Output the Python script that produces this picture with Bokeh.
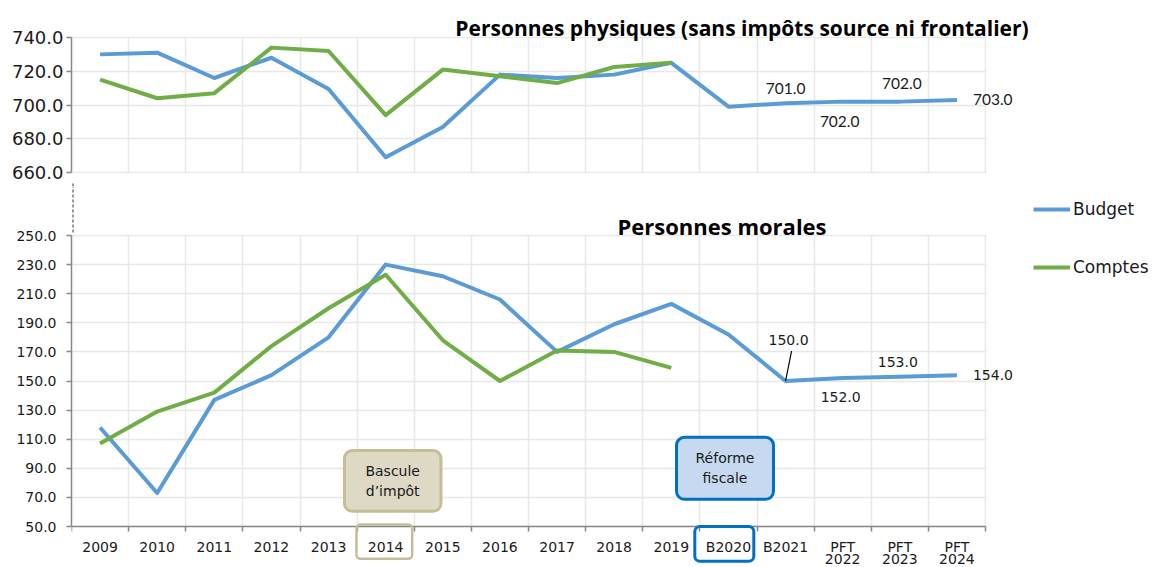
from bokeh.plotting import figure
from bokeh.layouts import column
from bokeh.models import (Range1d, FixedTicker, PrintfTickFormatter, Legend, LegendItem,
                          Label, LabelSet, ColumnDataSource, BoxAnnotation, LinearAxis)
from bokeh.embed import file_html
from bokeh.resources import INLINE
from bokeh.core.properties import value

# ---------------- data ----------------
categories = ["2009", "2010", "2011", "2012", "2013", "2014", "2015", "2016", "2017", "2018",
              "2019", "B2020", "B2021", "PFT 2022", "PFT 2023", "PFT 2024"]

# Personnes physiques (sans impôts source ni frontalier)
pp_budget = [730, 731, 716, 728, 709.5, 669, 687, 718, 716, 718, 725, 699, 701, 702, 702, 703]
pp_comptes = [715, 704, 707, 734, 732, 694, 721, 717, 713, 722.5, 725]
# Personnes morales
pm_budget = [118, 73, 137, 154, 180, 230, 222, 206, 170, 189, 203, 182, 150, 152, 153, 154]
pm_comptes = [107, 129, 142, 174, 200, 223, 178, 150, 171, 170, 159]

pp_ticks = [660, 680, 700, 720, 740]
pm_ticks = [50, 70, 90, 110, 130, 150, 170, 190, 210, 230, 250]
labelled = ["B2021", "PFT 2022", "PFT 2023", "PFT 2024"]

title_pp = "Personnes physiques (sans impôts source ni frontalier)"
title_pm = "Personnes morales"
series_names = ["Budget", "Comptes"]
note_1 = "Bascule\nd’impôt"
note_2 = "Réforme\nfiscale"

# ---------------- style / geometry ----------------
BLUE = "#5b9bd5"
GREEN = "#70ad47"
GRID = "#e8e8e8"
AXIS = "#868686"
TXT = "#1a1a1a"
FONT = "DejaVu Sans"
TFONT = "Open Sans"
W, H = 1153, 567
LEFT = 71                       # frame left edge (px); frame runs to the right edge
n = len(categories)
CAT_W = (985 - LEFT) / n        # px per category
xs = [i + 0.5 for i in range(n)]
pos = {c: i + 0.5 for i, c in enumerate(categories)}
bounds_x = list(range(n + 1))
xr = Range1d(0, (W - LEFT) / CAT_W)

# top panel: 740 at 37px, 660 at 172px, figure 0..186
H1 = 186
k1 = (172 - 37) / (pp_ticks[-1] - pp_ticks[0])
yr1 = Range1d(pp_ticks[0] - (H1 - 172) / k1, pp_ticks[-1] + 37 / k1)
# bottom panel: 250 at 235px, 50 at 526px, figure 186..567
H2 = H - H1
k2 = (526 - 235) / (pm_ticks[-1] - pm_ticks[0])
yr2 = Range1d(pm_ticks[0] - (H - 526) / k2, pm_ticks[-1] + (235 - H1) / k2)
XBRK = 1.5 / CAT_W              # x of the dashed axis-break mark


def style(p, yticks, yfont_size, standoff):
    p.outline_line_color = None
    p.ygrid.ticker = FixedTicker(ticks=yticks)
    p.ygrid.grid_line_color = GRID
    p.ygrid.grid_line_width = 1.5
    p.xgrid.ticker = FixedTicker(ticks=bounds_x)
    p.xgrid.grid_line_color = GRID
    p.xgrid.grid_line_width = 1.5
    ya = p.yaxis[0]
    ya.ticker = FixedTicker(ticks=yticks)
    ya.bounds = (yticks[0], yticks[-1])
    ya.formatter = PrintfTickFormatter(format="%.1f")
    ya.major_label_text_font = FONT
    ya.major_label_text_font_size = yfont_size
    ya.major_label_text_color = TXT
    ya.major_label_standoff = standoff
    ya.axis_line_color = AXIS
    ya.axis_line_width = 1.5
    ya.major_tick_line_color = AXIS
    ya.major_tick_line_width = 1.5
    ya.major_tick_in = 0
    ya.major_tick_out = 5
    ya.minor_tick_line_color = None


def masks(p, lo, hi, k):
    # hide grid lines outside the panel's plotting area
    for kw in (dict(bottom=hi + 0.75 / k), dict(top=lo - 0.75 / k), dict(left=n + 0.75 / CAT_W)):
        p.add_layout(BoxAnnotation(fill_color="white", fill_alpha=1, line_color=None,
                                   level="underlay", **kw))


def break_mark(p, y0, y1):
    p.segment(x0=[XBRK], y0=[y0], x1=[XBRK], y1=[y1], line_color="#333333",
              line_width=1, line_dash="3 2")


# ---------------- top panel ----------------
p1 = figure(x_range=xr, y_range=yr1, width=W, height=H1, output_backend="svg", toolbar_location=None,
            x_axis_location=None, min_border_left=LEFT, min_border_right=0,
            min_border_top=0, min_border_bottom=0)
style(p1, pp_ticks, "18px", 3)
masks(p1, pp_ticks[0], pp_ticks[-1], k1)
break_mark(p1, yr1.start, pp_ticks[0] - (183 - 172) / k1)

p1.line(x=xs, y=pp_budget, line_color=BLUE, line_width=4, line_join="round")
p1.line(x=xs[:len(pp_comptes)], y=pp_comptes, line_color=GREEN, line_width=4, line_join="round")

pp_lab = ColumnDataSource(dict(
    x=[pos[c] for c in labelled],
    y=[pp_budget[categories.index(c)] for c in labelled],
    text=["%.1f" % pp_budget[categories.index(c)] for c in labelled],
    xo=[0, -3, 2, 16], yo=[15, -20, 18, 0], align=["center", "center", "center", "left"]))
p1.add_layout(LabelSet(x="x", y="y", text="text", source=pp_lab, x_offset="xo", y_offset="yo",
                       text_align="align", text_baseline="middle", text_font=value("Lato"),
                       text_font_size="15.5px", text_color=TXT))

p1.add_layout(Label(x=(741.5 - LEFT) / CAT_W, y=pp_ticks[-1] + 10 / k1, text=title_pp,
                    text_align="center", text_baseline="middle", text_font=TFONT,
                    text_font_style="bold", text_font_size="21px", text_color="black"))

# ---------------- bottom panel ----------------
p2 = figure(x_range=xr, y_range=yr2, width=W, height=H2, output_backend="svg", toolbar_location=None,
            min_border_left=LEFT, min_border_right=0, min_border_top=0, min_border_bottom=0)
style(p2, pm_ticks, "14px", 10)
masks(p2, pm_ticks[0], pm_ticks[-1], k2)
break_mark(p2, pm_ticks[-1] + (235 - 232) / k2, yr2.end)

line1 = {x: c.split(" ")[0] for x, c in zip(xs, categories)}
line2 = {x: c.split(" ")[1] for x, c in zip(xs, categories) if " " in c}

xa = p2.xaxis[0]
xa.fixed_location = pm_ticks[0]
xa.bounds = (0, n)
xa.ticker = FixedTicker(ticks=xs, minor_ticks=bounds_x)
xa.major_label_overrides = line1
xa.axis_line_color = AXIS
xa.axis_line_width = 1.5
xa.major_tick_line_color = None
xa.major_tick_out = 5
xa.minor_tick_line_color = AXIS
xa.minor_tick_line_width = 1.5
xa.minor_tick_in = 0
xa.minor_tick_out = 5
xa.major_label_standoff = 7
xa.major_label_text_font = FONT
xa.major_label_text_font_size = "14px"
xa.major_label_text_color = TXT

xb = LinearAxis(fixed_location=pm_ticks[0], ticker=FixedTicker(ticks=sorted(line2)),
                major_label_overrides=line2, axis_line_color=None, major_tick_line_color=None,
                minor_tick_line_color=None, major_tick_out=0, major_tick_in=0,
                major_label_standoff=27, major_label_text_font=FONT,
                major_label_text_font_size="14px", major_label_text_color=TXT)
p2.add_layout(xb, "below")

rb = p2.line(x=xs, y=pm_budget, line_color=BLUE, line_width=4, line_join="round")
rc = p2.line(x=xs[:len(pm_comptes)], y=pm_comptes, line_color=GREEN, line_width=4, line_join="round")

pm_lab = ColumnDataSource(dict(
    x=[pos[c] for c in labelled],
    y=[pm_budget[categories.index(c)] for c in labelled],
    text=["%.1f" % pm_budget[categories.index(c)] for c in labelled],
    xo=[3, -2, -2, 16], yo=[41, -19, 15, 0], align=["center", "center", "center", "left"]))
p2.add_layout(LabelSet(x="x", y="y", text="text", source=pm_lab, x_offset="xo", y_offset="yo",
                       text_align="align", text_baseline="middle", text_font=value(FONT),
                       text_font_size="14px", text_color=TXT))

x21 = pos["B2021"]
p2.segment(x0=[x21], y0=[pm_budget[categories.index("B2021")]], x1=[x21 + 6 / CAT_W],
           y1=[pm_budget[categories.index("B2021")] + 30 / k2], line_color="black", line_width=1.2)

p2.add_layout(Label(x=(721.5 - LEFT) / CAT_W, y=pm_ticks[-1] + 10 / k2, text=title_pm,
                    text_align="center", text_baseline="middle", text_font=TFONT,
                    text_font_style="bold", text_font_size="22px", text_color="black"))

# annotation boxes
p2.add_layout(Label(x=(392.2 - LEFT) / CAT_W, y=81.3, text=note_1, text_align="center",
                    text_baseline="middle", text_font=FONT, text_font_size="14px",
                    text_color=TXT, text_line_height=1.3,
                    background_fill_color="#ddd9c4", border_line_color="#c4bd97", border_line_width=3,
                    border_radius=8, padding=dict(left=21, right=21, top=12, bottom=12)))
p2.add_layout(Label(x=(724.5 - LEFT) / CAT_W, y=90.0, text=note_2, text_align="center",
                    text_baseline="middle", text_font=FONT, text_font_size="14px",
                    text_color=TXT, text_line_height=1.25,
                    background_fill_color="#c6d9f1", border_line_color="#0070c0", border_line_width=3,
                    border_radius=8, padding=dict(left=19, right=19, top=13, bottom=13)))

# frames round the "2014" and "B2020" tick labels
p2.add_layout(BoxAnnotation(left=(356 - LEFT) / CAT_W, right=(411.7 - LEFT) / CAT_W,
                            bottom=pm_ticks[0] - 32.3 / k2, top=pm_ticks[0] + 2 / k2,
                            fill_alpha=0, line_color="#c4bd97", line_alpha=1, line_width=2.5,
                            border_radius=4))
p2.add_layout(BoxAnnotation(left=(694.3 - LEFT) / CAT_W, right=(753.3 - LEFT) / CAT_W,
                            bottom=pm_ticks[0] - 34.7 / k2, top=pm_ticks[0],
                            fill_alpha=0, line_color="#0070c0", line_alpha=1, line_width=3,
                            border_radius=5))

legend = Legend(items=[LegendItem(label=series_names[0], renderers=[rb]),
                       LegendItem(label=series_names[1], renderers=[rc])],
                location=(1033 - LEFT, H - 285), orientation="vertical", glyph_width=37, glyph_height=36,
                label_height=36, spacing=22, padding=0, margin=0, border_line_color=None,
                background_fill_alpha=0, label_standoff=3, label_text_font=FONT,
                label_text_font_size="17px", label_text_color=TXT)
p2.add_layout(legend, "center")

layout = column(p1, p2, spacing=0)
open("out.html", "w").write(file_html(layout, INLINE))
